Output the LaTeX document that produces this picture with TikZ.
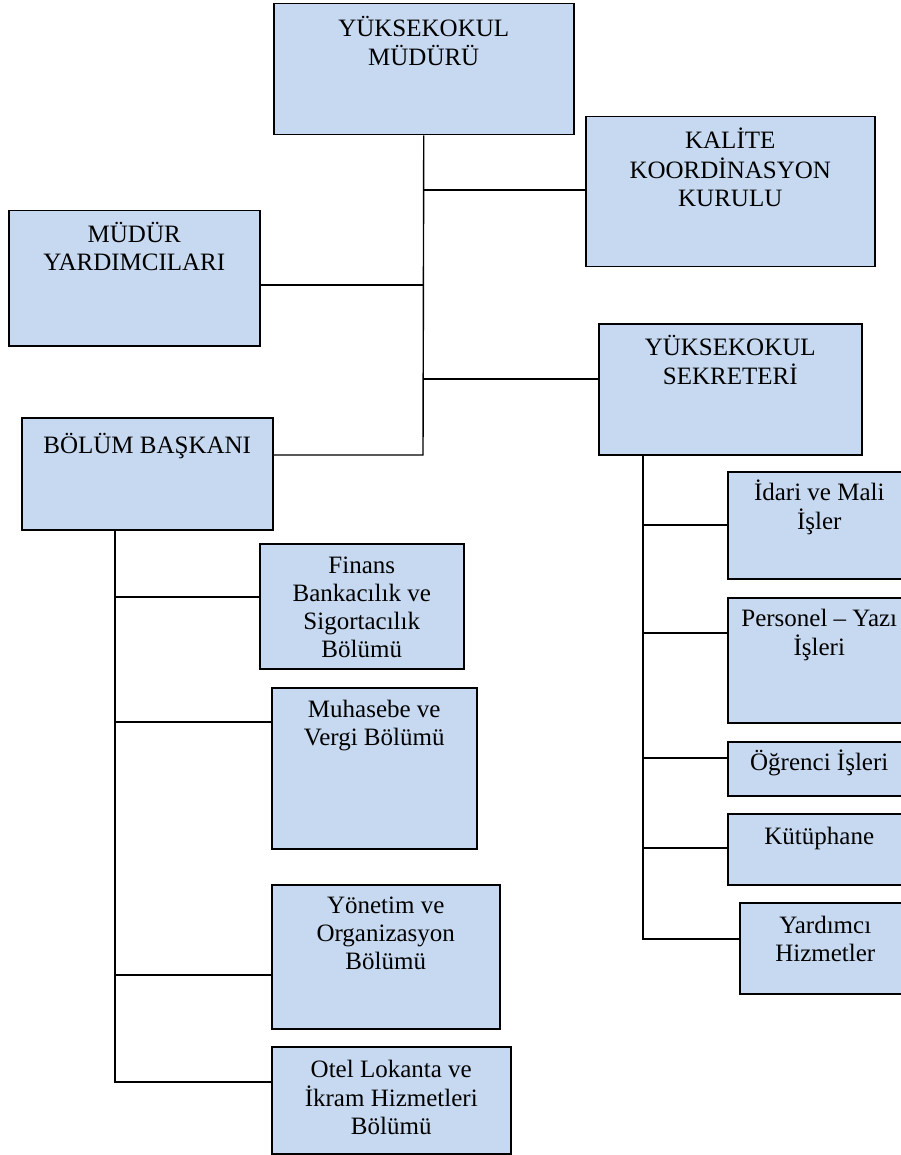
\documentclass[tikz,border=0pt]{standalone}
\usepackage{fontspec}
\setmainfont{Liberation Serif}
\definecolor{boxfill}{HTML}{C6D9F0}
\newcommand{\lines}[1]{\begin{tabular}[t]{@{}c@{}}#1\end{tabular}}
\begin{document}
\begin{tikzpicture}[x=1pt,y=-1pt,
  orgbox/.style={draw=black, line width=1.5pt, fill=boxfill, inner sep=0pt, anchor=north west},
  lbl/.style={anchor=base, inner sep=0pt, font=\fontsize{25}{28}\selectfont},
  conn/.style={draw=black, line width=1.4pt}]
\useasboundingbox (0,0) rectangle (901,1155);
\clip (0,0) rectangle (901,1155);

% boxes
\node[orgbox, minimum width=300pt, minimum height=131pt] (mud) at (273,3) {};
\node[orgbox, minimum width=289pt, minimum height=150pt] (kal) at (585,116) {};
\node[orgbox, minimum width=251pt, minimum height=135pt] (yrd) at (8,210) {};
\node[orgbox, minimum width=263pt, minimum height=131pt] (sek) at (598,323) {};
\node[orgbox, minimum width=251pt, minimum height=112pt] (bas) at (21,417) {};
\node[orgbox, minimum width=204pt, minimum height=125pt] (fin) at (259,543) {};
\node[orgbox, minimum width=205pt, minimum height=161pt] (muh) at (271,687) {};
\node[orgbox, minimum width=228pt, minimum height=144pt] (yon) at (271,884) {};
\node[orgbox, minimum width=239pt, minimum height=107pt] (otel) at (271,1046) {};
\node[orgbox, minimum width=183pt, minimum height=107pt] (ida) at (727,471) {};
\node[orgbox, minimum width=183pt, minimum height=125pt] (per) at (727,597) {};
\node[orgbox, minimum width=183pt, minimum height=54pt] (ogr) at (727,741) {};
\node[orgbox, minimum width=183pt, minimum height=71pt] (kut) at (727,813) {};
\node[orgbox, minimum width=171pt, minimum height=91pt] (yar) at (739,902) {};

% texts
\node[lbl] (mud-t) at ([yshift=-34pt]mud.north) {\lines{YÜKSEKOKUL\\MÜDÜRÜ}};
\node[lbl] (kal-t) at ([yshift=-33pt]kal.north) {\lines{KALİTE\\KOORDİNASYON\\KURULU}};
\node[lbl] (yrd-t) at ([yshift=-33pt]yrd.north) {\lines{MÜDÜR\\YARDIMCILARI}};
\node[lbl] (sek-t) at ([yshift=-32pt]sek.north) {\lines{YÜKSEKOKUL\\SEKRETERİ}};
\node[lbl] (bas-t) at ([yshift=-36pt]bas.north) {\lines{BÖLÜM BAŞKANI}};
\node[lbl] (fin-t) at ([yshift=-30pt]fin.north) {\lines{Finans\\Bankacılık ve\\Sigortacılık\\Bölümü}};
\node[lbl] (muh-t) at ([yshift=-30pt]muh.north) {\lines{Muhasebe ve\\Vergi Bölümü}};
\node[lbl] (yon-t) at ([yshift=-29pt]yon.north) {\lines{Yönetim ve\\Organizasyon\\Bölümü}};
\node[lbl] (otel-t) at ([yshift=-31pt]otel.north) {\lines{Otel Lokanta ve\\İkram Hizmetleri\\Bölümü}};
\node[lbl] (ida-t) at ([yshift=-29pt]ida.north) {\lines{İdari ve Mali\\İşler}};
\node[lbl] (per-t) at ([yshift=-29pt]per.north) {\lines{Personel – Yazı\\İşleri}};
\node[lbl] (ogr-t) at ([yshift=-29pt]ogr.north) {\lines{Öğrenci İşleri}};
\node[lbl] (kut-t) at ([yshift=-31pt]kut.north) {\lines{Kütüphane}};
\node[lbl] (yar-t) at ([yshift=-31pt]yar.north) {\lines{Yardımcı\\Hizmetler}};

% junction points
\coordinate (ta) at (423,190);
\coordinate (tb) at (423,285);
\coordinate (tc) at (423,379);
\coordinate (td) at (423,455);
\coordinate (la) at (115,529);
\coordinate (la2) at (115,597);
\coordinate (la3) at (115,722);
\coordinate (la4) at (115,975);
\coordinate (la5) at (115,1082);
\coordinate (ra) at (643,454);
\coordinate (ra1) at (643,525);
\coordinate (ra2) at (643,633);
\coordinate (ra3) at (643,758);
\coordinate (ra4) at (643,848);
\coordinate (ra5) at (643,939);

% connectors
\draw[conn] (mud.south) -- (td) -- (bas.east |- td);
\draw[conn] (ta) -- (kal.west |- ta);
\draw[conn] (tb) -- (yrd.east |- tb);
\draw[conn] (tc) -- (sek.west |- tc);

\draw[conn] (la) -- (la5) -- (otel.west |- la5);
\draw[conn] (la2) -- (fin.west |- la2);
\draw[conn] (la3) -- (muh.west |- la3);
\draw[conn] (la4) -- (yon.west |- la4);

\draw[conn] (ra) -- (ra5) -- (yar.west |- ra5);
\draw[conn] (ra1) -- (ida.west |- ra1);
\draw[conn] (ra2) -- (per.west |- ra2);
\draw[conn] (ra3) -- (ogr.west |- ra3);
\draw[conn] (ra4) -- (kut.west |- ra4);
\end{tikzpicture}
\end{document}
